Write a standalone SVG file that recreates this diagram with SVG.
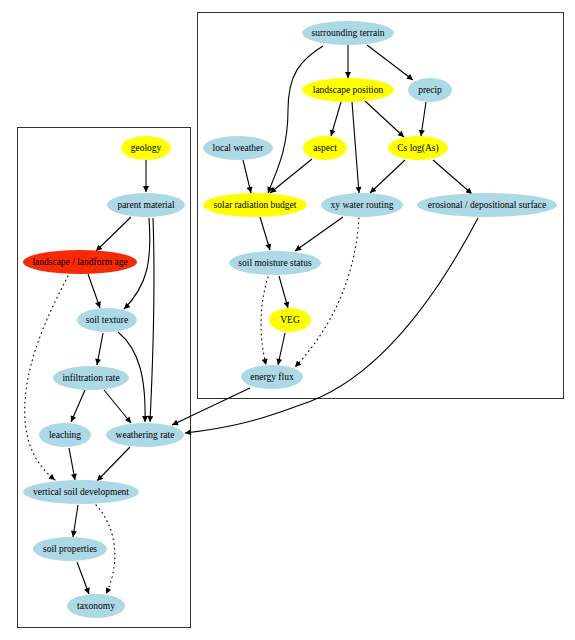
<svg xmlns="http://www.w3.org/2000/svg" width="575" height="640" viewBox="0 0 575 640">
<defs>
<marker id="ah" viewBox="0 0 10 10" refX="10" refY="5" markerWidth="7" markerHeight="6" markerUnits="userSpaceOnUse" orient="auto">
<path d="M0,0 L10,5 L0,10 z" fill="#000"/>
</marker>
<style>
.cl{fill:none;stroke:#333;stroke-width:1}
.b{fill:#add8e6}
.y{fill:#ffff00}
.r{fill:#f72a05}
text{font-family:"Liberation Serif","Times New Roman",serif;font-size:9.5px;fill:#000;text-anchor:middle;dominant-baseline:central}
.e{fill:none;stroke:#000;stroke-width:1.1;marker-end:url(#ah)}
.d{stroke-dasharray:0.8,4;stroke-linecap:round}
</style>
</defs>
<rect width="575" height="640" fill="#fff"/>
<rect class="cl" x="197.5" y="12.5" width="366" height="386"/>
<rect class="cl" x="17.5" y="127.5" width="173" height="500"/>

<g id="connectors">
<path class="e" d="M348,45 L348,78"/>
<path class="e" d="M367,45 L413,80"/>
<path class="e" d="M323,46 C300,60 288,75 288,110 C288,150 276,172 268,193"/>
<path class="e" d="M341,102 L331,136"/>
<path class="e" d="M352,102 L359,193"/>
<path class="e" d="M365,101 L404,137"/>
<path class="e" d="M426,102 L421,136"/>
<path class="e" d="M243,160 L251,193"/>
<path class="e" d="M312,159 L270,193"/>
<path class="e" d="M405,160 L370,193"/>
<path class="e" d="M433,160 L472,194"/>
<path class="e" d="M260,217 L270,250"/>
<path class="e" d="M343,217 L295,251"/>
<path class="e d" d="M359,218 C355,280 330,330 295,367"/>
<path class="e" d="M279,276 L288,308"/>
<path class="e d" d="M268,277 C258,310 260,340 266,365"/>
<path class="e" d="M285,333 L278,365"/>
<path class="e" d="M250,388 L172,425"/>
<path class="e" d="M478,218 C440,290 380,380 300,405 C260,420 230,428 185,433"/>
<path class="e" d="M146,160 L146,192"/>
<path class="e" d="M131,217 L96,251"/>
<path class="e" d="M149,218 C152,260 148,285 124,309"/>
<path class="e" d="M153,218 C156,300 152,380 150,422"/>
<path class="e" d="M88,274 L100,308"/>
<path class="e d" d="M68,276 C45,320 22,370 25,420 C27,450 40,468 55,480"/>
<path class="e" d="M103,333 L97,365"/>
<path class="e" d="M118,332 C140,350 146,380 145,422"/>
<path class="e" d="M85,390 L71,422"/>
<path class="e" d="M104,390 L131,423"/>
<path class="e" d="M69,448 L75,480"/>
<path class="e" d="M130,447 L97,481"/>
<path class="e" d="M78,505 L73,537"/>
<path class="e d" d="M96,505 C115,525 122,560 106,594"/>
<path class="e" d="M77,562 L89,594"/>
</g>

<g id="surrounding-terrain"><ellipse class="b" cx="348" cy="33" rx="46" ry="12"/><text x="348" y="33">surrounding terrain</text></g>
<g id="landscape-position"><ellipse class="y" cx="348" cy="90" rx="46" ry="12"/><text x="348" y="90">landscape position</text></g>
<g id="precip"><ellipse class="b" cx="430" cy="90" rx="22" ry="12"/><text x="430" y="90">precip</text></g>
<g id="local-weather"><ellipse class="b" cx="238" cy="148" rx="35" ry="12"/><text x="238" y="148">local weather</text></g>
<g id="aspect"><ellipse class="y" cx="325" cy="148" rx="22" ry="12"/><text x="325" y="148">aspect</text></g>
<g id="cs-log-as"><ellipse class="y" cx="418" cy="148" rx="30" ry="12"/><text x="418" y="148">Cs log(As)</text></g>
<g id="solar-radiation-budget"><ellipse class="y" cx="255" cy="205" rx="52" ry="12"/><text x="255" y="205">solar radiation budget</text></g>
<g id="xy-water-routing"><ellipse class="b" cx="362" cy="205" rx="41" ry="12"/><text x="362" y="205">xy water routing</text></g>
<g id="erosional-depositional-surface"><ellipse class="b" cx="487" cy="205" rx="70" ry="12"/><text x="487" y="205">erosional / depositional surface</text></g>
<g id="soil-moisture-status"><ellipse class="b" cx="275" cy="263" rx="46" ry="12"/><text x="275" y="263">soil moisture status</text></g>
<g id="veg"><ellipse class="y" cx="290" cy="320" rx="21" ry="12"/><text x="290" y="320">VEG</text></g>
<g id="energy-flux"><ellipse class="b" cx="272" cy="377" rx="31" ry="12"/><text x="272" y="377">energy flux</text></g>

<g id="geology"><ellipse class="y" cx="146" cy="148" rx="25" ry="12"/><text x="146" y="148">geology</text></g>
<g id="parent-material"><ellipse class="b" cx="146" cy="205" rx="39" ry="12"/><text x="146" y="205">parent material</text></g>
<g id="landscape-landform-age"><ellipse class="r" cx="80" cy="262" rx="57" ry="12"/><text x="80" y="262">landscape / landform age</text></g>
<g id="soil-texture"><ellipse class="b" cx="107" cy="320" rx="30" ry="12"/><text x="107" y="320">soil texture</text></g>
<g id="infiltration-rate"><ellipse class="b" cx="91" cy="378" rx="38" ry="12"/><text x="91" y="378">infiltration rate</text></g>
<g id="leaching"><ellipse class="b" cx="65" cy="435" rx="26" ry="12"/><text x="65" y="435">leaching</text></g>
<g id="weathering-rate"><ellipse class="b" cx="145" cy="435" rx="39" ry="12"/><text x="145" y="435">weathering rate</text></g>
<g id="vertical-soil-development"><ellipse class="b" cx="81" cy="492" rx="58" ry="12"/><text x="81" y="492">vertical soil development</text></g>
<g id="soil-properties"><ellipse class="b" cx="70" cy="549" rx="37" ry="12"/><text x="70" y="549">soil properties</text></g>
<g id="taxonomy"><ellipse class="b" cx="96" cy="606" rx="29" ry="12"/><text x="96" y="606">taxonomy</text></g>
</svg>
